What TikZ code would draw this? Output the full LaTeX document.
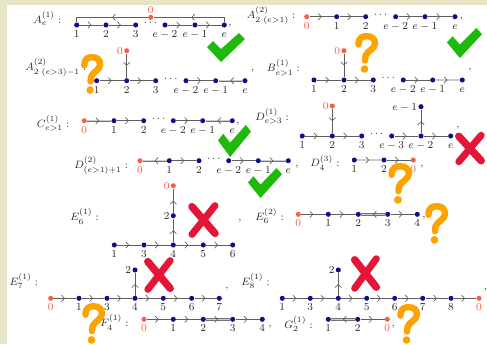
\documentclass[tikz,border=0pt]{standalone}
\usetikzlibrary{decorations.markings,arrows.meta}
\definecolor{navyc}{RGB}{15,15,135}
\definecolor{redc}{RGB}{250,95,70}
\definecolor{edgec}{RGB}{95,95,95}
\definecolor{dblout}{RGB}{115,115,115}
\definecolor{dblin}{RGB}{205,205,205}
\definecolor{txtc}{RGB}{40,40,40}
\definecolor{beigec}{RGB}{232,228,200}
\definecolor{greenc}{RGB}{30,185,10}
\definecolor{orangec}{RGB}{252,163,0}
\definecolor{xredc}{RGB}{228,22,55}
\tikzset{
  bn/.style={circle, fill=navyc, inner sep=0pt, minimum size=3.8pt},
  rn/.style={circle, fill=redc, inner sep=0pt, minimum size=3.8pt},
  every label/.style={inner sep=0.6pt, text=txtc, font=\footnotesize, text height=1.5ex, text depth=0.25ex},
  bigl/.style={anchor=base west, inner sep=0pt, font=\footnotesize, text=txtc},
  dts/.style={inner sep=0pt, font=\footnotesize, text=txtc},
  cma/.style={anchor=base, inner sep=0pt, font=\footnotesize, text=txtc},
  ed/.style={draw=edgec, line width=0.5pt},
  dbl/.style={draw=dblout, line width=0.45pt, double=dblin, double distance=0.9pt},
  fw/.style={postaction={decorate, decoration={markings, mark=at position #1 with {\arrow[edgec, line width=0.5pt]{Straight Barb[length=2.2pt, width=4.8pt]}}}}},
  fw/.default=0.5,
  bw/.style={postaction={decorate, decoration={markings, mark=at position #1 with {\arrowreversed[edgec, line width=0.5pt]{Straight Barb[length=2.2pt, width=4.8pt]}}}}},
  bw/.default=0.5,
}
\newcommand\MyCheck[4]{%
  \begin{scope}[shift={(#1,#2)}, xscale=#3/38, yscale=#4/29]
    \fill[greenc] (0,14) -- (6,8) -- (14,16) -- (32,0) -- (38,6) -- (14,29) -- cycle;
  \end{scope}}
\newcommand\MyQ[4]{%
  \begin{scope}[shift={(#1,#2)}, xscale=#3/23, yscale=#4/40]
    \draw[orangec, line width=4.8pt, line cap=round] (3.5,11.5) .. controls (3.5,4) and (8,3.2) .. (12,3.2) .. controls (17,3.2) and (20,6) .. (20,10.5) .. controls (20,16) and (12,18) .. (10.5,23) -- (10,27.5);
    \fill[orangec] (9.5,36) circle (3.8);
  \end{scope}}
\newcommand\MyX[4]{%
  \begin{scope}[shift={(#1,#2)}, xscale=#3/30, yscale=#4/35]
    \draw[xredc, line width=5.6pt, line cap=round] (4.5,4.5) -- (25.5,30.5);
    \draw[xredc, line width=5.2pt, line cap=round] (25.5,3.5) -- (4.5,31.5);
  \end{scope}}
\begin{document}
\begin{tikzpicture}[x=0.75pt,y=-0.75pt]
\useasboundingbox (0,0) rectangle (487,344);
\fill[white] (0,0) rectangle (487,344);
\fill[beigec] (0,0) rectangle (487,5);
\fill[beigec] (0,0) rectangle (7,344);

% ---------- A_e^(1)
\node[bigl] (LA1) at (33,23.5) {$A^{(1)}_{e}:$};
\node[bn,label=below:$1$] (a1) at (76.7,25) {};
\node[bn,label=below:$2$] (a2) at (106,25) {};
\node[bn,label=below:$3$] (a3) at (135.7,25) {};
\node[bn,label=below:$e-2$] (a4) at (165,25) {};
\node[bn,label=below:$e-1$] (a5) at (195,25) {};
\node[bn,label=below:$e$] (a6) at (224.3,25) {};
\node[rn,label={[text=redc,yshift=-1pt]above:$0$}] (a0) at (150.7,17.3) {};
\node[dts] (ad) at (150.4,23.5) {$\cdots$};
\node[cma] (ac) at (230,25) {,};
\draw[ed,fw] (a1) -- (a2);
\draw[ed,fw] (a2) -- (a3);
\draw[ed,fw] (a4) -- (a5);
\draw[ed,fw] (a5) -- (a6);
\draw[ed,fw=0.47] (a0) -| (a1);
\draw[ed,fw=0.5] (a6) |- (a0);

% ---------- A_{2(e>1)}^(2)
\node[bigl] (LA2) at (246.7,18.5) {$A^{(2)}_{2\cdot(e>1)}:$};
\node[rn,label={[text=redc]below:$0$}] (b0) at (306.7,16.7) {};
\node[bn,label=below:$1$] (b1) at (336.7,16.7) {};
\node[bn,label=below:$2$] (b2) at (365.7,16.7) {};
\node[bn,label=below:$e-2$] (b3) at (395.7,16.7) {};
\node[bn,label=below:$e-1$] (b4) at (425,16.7) {};
\node[bn,label=below:$e$] (b5) at (455,16.7) {};
\node[dts] (bd) at (380.7,15) {$\cdots$};
\node[cma] (bc) at (461.5,18) {,};
\draw[ed,fw] (b0) -- (b1);
\draw[ed,fw] (b1) -- (b2);
\draw[ed,fw] (b3) -- (b4);
\draw[ed,fw] (b4) -- (b5);

% ---------- A_{2(e>3)-1}^(2)
\node[bigl] (LA3) at (25,70.5) {$A^{(2)}_{2\cdot(e>3)-1}:$};
\node[bn,label=below:$1$] (c1) at (96.7,80.7) {};
\node[bn,label=below:$2$] (c2) at (126.7,80.7) {};
\node[bn,label=below:$3$] (c3) at (155.7,80.7) {};
\node[bn,label=below:$e-2$] (c4) at (186,80.7) {};
\node[bn,label=below:$e-1$] (c5) at (215.7,80.7) {};
\node[bn,label=below:$e$] (c6) at (245,80.7) {};
\node[rn,label={[text=redc]left:$0$}] (c0) at (126.7,50.7) {};
\node[dts] (cd) at (170.8,79) {$\cdots$};
\node[cma] (cc) at (252.7,70) {,};
\draw[ed,fw] (c0) -- (c2);
\draw[ed,fw] (c1) -- (c2);
\draw[ed,fw] (c2) -- (c3);
\draw[ed,fw] (c4) -- (c5);
\draw[dbl] (c5) -- (c6);
\path[bw] (c5) -- (c6);

% ---------- B_{e>1}^(1)
\node[bigl] (LB) at (266.7,71.5) {$B^{(1)}_{e>1}:$};
\node[bn,label=below:$1$] (d1) at (314,80) {};
\node[bn,label=below:$2$] (d2) at (344,80) {};
\node[bn,label=below:$3$] (d3) at (373.3,80) {};
\node[bn,label=below:$e-2$] (d4) at (403.3,80) {};
\node[bn,label=below:$e-1$] (d5) at (432.7,80) {};
\node[bn,label=below:$e$] (d6) at (462.3,80) {};
\node[rn,label={[text=redc]left:$0$}] (d0) at (344,50.7) {};
\node[dts] (dd) at (388.3,78.5) {$\cdots$};
\node[cma] (dc) at (470,69) {,};
\draw[ed,fw] (d0) -- (d2);
\draw[ed,fw] (d1) -- (d2);
\draw[ed,fw] (d2) -- (d3);
\draw[ed,fw] (d4) -- (d5);
\draw[dbl] (d5) -- (d6);
\path[fw] (d5) -- (d6);

% ---------- C_{e>1}^(1)
\node[bigl] (LC) at (36.7,127) {$C^{(1)}_{e>1}:$};
\node[rn,label={[text=redc]below:$0$}] (f0) at (84.3,120.7) {};
\node[bn,label=below:$1$] (f1) at (114,120.7) {};
\node[bn,label=below:$2$] (f2) at (143.7,120.7) {};
\node[bn,label=below:$e-2$] (f3) at (173.3,120.7) {};
\node[bn,label=below:$e-1$] (f4) at (202.7,120.7) {};
\node[bn,label=below:$e$] (f5) at (232.3,120.7) {};
\node[dts] (fd) at (158.5,119) {$\cdots$};
\node[cma] (fc) at (238,123) {,};
\draw[dbl] (f0) -- (f1);
\path[fw] (f0) -- (f1);
\draw[ed,fw] (f1) -- (f2);
\draw[ed,fw] (f3) -- (f4);
\draw[dbl] (f4) -- (f5);
\path[bw] (f4) -- (f5);

% ---------- D_{e>3}^(1)
\node[bigl] (LD1) at (255,120) {$D^{(1)}_{e>3}:$};
\node[bn,label=below:$1$] (g1) at (302.3,136) {};
\node[bn,label=below:$2$] (g2) at (332.3,136) {};
\node[bn,label=below:$3$] (g3) at (361.7,136) {};
\node[bn,label=below:$e-3$] (g4) at (391.7,136) {};
\node[bn,label=below:$e-2$] (g5) at (421,136) {};
\node[bn,label=below:$e$] (g6) at (450.7,136) {};
\node[rn,label={[text=redc]left:$0$}] (g0) at (332.3,106) {};
\node[bn,label=left:$e-1$] (g7) at (421,106.7) {};
\node[dts] (gd) at (376.7,134.5) {$\cdots$};
\node[cma] (gc) at (458,127) {,};
\draw[ed,fw] (g0) -- (g2);
\draw[ed,fw] (g1) -- (g2);
\draw[ed,fw] (g2) -- (g3);
\draw[ed,fw] (g4) -- (g5);
\draw[ed,fw] (g5) -- (g6);
\draw[ed,fw] (g5) -- (g7);

% ---------- D_{(e>1)+1}^(2)
\node[bigl] (LD2) at (74,168) {$D^{(2)}_{(e>1)+1}:$};
\node[rn,label={[text=redc]below:$0$}] (h0) at (140,160.7) {};
\node[bn,label=below:$1$] (h1) at (169.3,160.7) {};
\node[bn,label=below:$2$] (h2) at (199,160.7) {};
\node[bn,label=below:$e-2$] (h3) at (228.7,160.7) {};
\node[bn,label=below:$e-1$] (h4) at (258.3,160.7) {};
\node[bn,label=below:$e$] (h5) at (288.3,160.7) {};
\node[dts] (hd) at (213.8,159) {$\cdots$};
\node[cma] (hc) at (297,166) {,};
\draw[dbl] (h0) -- (h1);
\path[bw] (h0) -- (h1);
\draw[ed,fw] (h1) -- (h2);
\draw[ed,fw] (h3) -- (h4);
\draw[dbl] (h4) -- (h5);
\path[fw] (h4) -- (h5);

% ---------- D_4^(3)
\node[bigl] (LD3) at (310,166.7) {$D^{(3)}_{4}:$};
\node[bn,label=below:$1$] (i1) at (354.3,160) {};
\node[bn,label=below:$2$] (i2) at (384,160) {};
\node[rn,label={[text=redc]below:$0$}] (i0) at (413.3,160) {};
\node[cma] (ic) at (422,166) {,};
\draw[dbl] (i1) -- (i2);
\path[fw] (i1) -- (i2);
\draw[ed,fw] (i2) -- (i0);

% ---------- E_6^(1)
\node[bigl] (LE61) at (70,220.5) {$E^{(1)}_{6}:$};
\node[bn,label=below:$1$] (j1) at (114.3,245) {};
\node[bn,label=below:$3$] (j3) at (144,245) {};
\node[bn,label=below:$4$] (j4) at (173.3,245) {};
\node[bn,label=below:$5$] (j5) at (203.3,245) {};
\node[bn,label=below:$6$] (j6) at (232.7,245) {};
\node[bn,label=left:$2$] (j2) at (173.3,215.7) {};
\node[rn,label={[text=redc]left:$0$}] (j0) at (173.3,185.7) {};
\node[cma] (jc) at (240,220) {,};
\draw[ed,fw] (j1) -- (j3);
\draw[ed,fw] (j3) -- (j4);
\draw[ed,fw] (j4) -- (j5);
\draw[ed,fw] (j5) -- (j6);
\draw[ed,fw] (j4) -- (j2);
\draw[ed,fw] (j2) -- (j0);

% ---------- E_6^(2)
\node[bigl] (LE62) at (255,220) {$E^{(2)}_{6}:$};
\node[rn,label={[text=redc]below:$0$}] (k0) at (298.3,214.3) {};
\node[bn,label=below:$1$] (k1) at (328.3,214.3) {};
\node[bn,label=below:$2$] (k2) at (358.3,214.3) {};
\node[bn,label=below:$3$] (k3) at (387.7,214.3) {};
\node[bn,label=below:$4$] (k4) at (417.3,214.3) {};
\node[cma] (kc) at (424,217) {,};
\draw[ed,fw] (k0) -- (k1);
\draw[ed,fw] (k1) -- (k2);
\draw[dbl] (k2) -- (k3);
\path[bw] (k2) -- (k3);
\draw[ed,fw] (k3) -- (k4);

% ---------- E_7^(1)
\node[bigl] (LE7) at (9.3,285) {$E^{(1)}_{7}:$};
\node[rn,label={[text=redc]below:$0$}] (l0) at (50.7,298.3) {};
\node[bn,label=below:$1$] (l1) at (79,298.3) {};
\node[bn,label=below:$3$] (l3) at (107,298.3) {};
\node[bn,label=below:$4$] (l4) at (135,298.3) {};
\node[bn,label=below:$5$] (l5) at (163.3,298.3) {};
\node[bn,label=below:$6$] (l6) at (191.7,298.3) {};
\node[bn,label=below:$7$] (l7) at (219.3,298.3) {};
\node[bn,label=left:$2$] (l2) at (135,270) {};
\node[cma] (lc) at (227,288) {,};
\draw[ed,fw] (l0) -- (l1);
\draw[ed,fw] (l1) -- (l3);
\draw[ed,fw] (l3) -- (l4);
\draw[ed,fw] (l4) -- (l5);
\draw[ed,fw] (l5) -- (l6);
\draw[ed,fw] (l6) -- (l7);
\draw[ed,fw] (l4) -- (l2);

% ---------- E_8^(1)
\node[bigl] (LE8) at (241,285) {$E^{(1)}_{8}:$};
\node[bn,label=below:$1$] (m1) at (282.3,298.3) {};
\node[bn,label=below:$3$] (m3) at (310.3,298.3) {};
\node[bn,label=below:$4$] (m4) at (338.3,298.3) {};
\node[bn,label=below:$5$] (m5) at (366.7,298.3) {};
\node[bn,label=below:$6$] (m6) at (394.7,298.3) {};
\node[bn,label=below:$7$] (m7) at (422.7,298.3) {};
\node[bn,label=below:$8$] (m8) at (451,298.3) {};
\node[rn,label={[text=redc]below:$0$}] (m0) at (479,298.3) {};
\node[bn,label=left:$2$] (m2) at (338.3,270) {};
\node[cma] (mc) at (485.5,289) {,};
\draw[ed,fw] (m1) -- (m3);
\draw[ed,fw] (m3) -- (m4);
\draw[ed,fw] (m4) -- (m5);
\draw[ed,fw] (m5) -- (m6);
\draw[ed,fw] (m6) -- (m7);
\draw[ed,fw] (m7) -- (m8);
\draw[ed,fw] (m8) -- (m0);
\draw[ed,fw] (m4) -- (m2);

% ---------- F_4^(1)
\node[bigl] (LF4) at (100,326.5) {$F^{(1)}_{4}:$};
\node[rn,label={[text=redc]below:$0$}] (n0) at (144,319.3) {};
\node[bn,label=below:$1$] (n1) at (173.3,319.3) {};
\node[bn,label=below:$2$] (n2) at (203.3,319.3) {};
\node[bn,label=below:$3$] (n3) at (232.7,319.3) {};
\node[bn,label=below:$4$] (n4) at (262.3,319.3) {};
\node[cma] (nc) at (270,326) {,};
\draw[ed,fw] (n0) -- (n1);
\draw[ed,fw] (n1) -- (n2);
\draw[dbl] (n2) -- (n3);
\path[fw] (n2) -- (n3);
\draw[ed,fw] (n3) -- (n4);

% ---------- G_2^(1)
\node[bigl] (LG2) at (284,328) {$G^{(1)}_{2}:$};
\node[bn,label=below:$1$] (o1) at (328.3,319.3) {};
\node[bn,label=below:$2$] (o2) at (357.7,319.3) {};
\node[rn,label={[text=redc]below:$0$}] (o0) at (387.3,319.3) {};
\node[cma] (oc) at (393.3,326) {,};
\draw[dbl] (o1) -- (o2);
\path[bw] (o1) -- (o2);
\draw[ed,fw] (o2) -- (o0);

% ---------- marks
\MyCheck{207}{33}{38}{29}
\MyCheck{447}{28}{35}{30}
\MyCheck{218}{125}{33}{32}
\MyCheck{248}{168}{34}{30}
\MyQ{81}{54}{22}{40}
\MyQ{355}{33}{23}{40}
\MyQ{388}{163}{24}{41}
\MyQ{425}{203}{23}{41}
\MyQ{82}{303}{23}{41}
\MyQ{397}{304}{23}{40}
\MyX{454}{132}{32}{33}
\MyX{187}{202}{33}{36}
\MyX{143}{257}{32}{36}
\MyX{350}{255}{31}{37}
\end{tikzpicture}
\end{document}
